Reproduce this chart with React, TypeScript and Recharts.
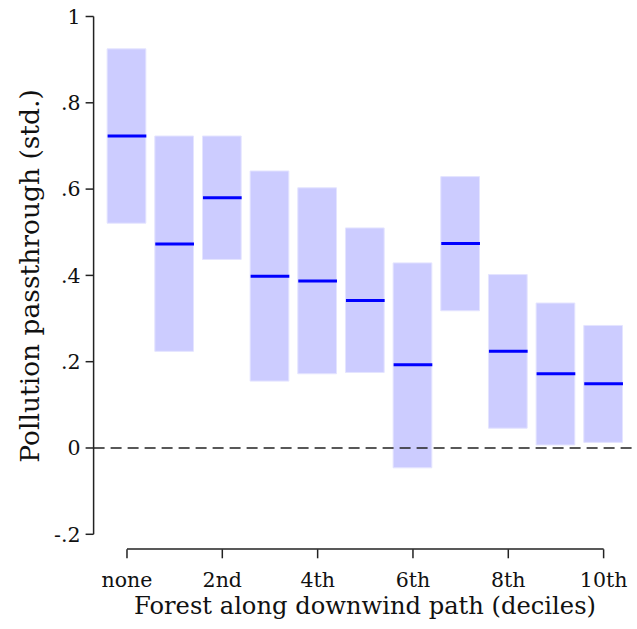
import {
  ComposedChart,
  Bar,
  Scatter,
  XAxis,
  YAxis,
  ReferenceLine,
} from 'recharts';

const deciles = ['none', '1st', '2nd', '3rd', '4th', '5th', '6th', '7th', '8th', '9th', '10th'];
const estimate = [0.723, 0.473, 0.58, 0.398, 0.387, 0.342, 0.193, 0.474, 0.224, 0.172, 0.149];
const lower = [0.521, 0.224, 0.437, 0.155, 0.172, 0.175, -0.046, 0.318, 0.046, 0.007, 0.013];
const upper = [0.925, 0.723, 0.723, 0.642, 0.603, 0.51, 0.429, 0.629, 0.402, 0.336, 0.284];
const yTicks = [-0.2, 0, 0.2, 0.4, 0.6, 0.8, 1];

const FONT = 'DejaVu Serif';
const BOX_W = 38.7;

const chartData = deciles.map((d, i) => ({
  name: d,
  band: [lower[i], upper[i]],
  est: estimate[i],
}));

const fmtY = (v: number) => {
  if (v === 0) return '0';
  if (v === 1) return '1';
  return v.toFixed(1).replace('0.', '.');
};

const XTick = ({ x, y, payload }: any) => (
  <g>
    <line x1={x} x2={x} y1={y + 15} y2={y + 24} stroke="#222" strokeWidth={1.5} />
    <text x={x} y={y + 53} textAnchor="middle" fontFamily={FONT} fontSize={20.5} fill="#111">
      {payload.value}
    </text>
  </g>
);

const EstLine = (p: any) => (
  <line
    x1={p.cx - BOX_W / 2}
    x2={p.cx + BOX_W / 2}
    y1={p.cy}
    y2={p.cy}
    stroke="#0000ff"
    strokeWidth={3}
  />
);

export default function App() {
  return (
    <div style={{ position: 'absolute', left: 0, top: 0, width: 637, height: 629, background: '#fff' }}>
      <ComposedChart
        width={637}
        height={629}
        data={chartData}
        margin={{ top: 16.5, right: 0, left: 0, bottom: 94.7 }}
      >
        <XAxis
          dataKey="name"
          type="category"
          padding={{ left: 9.55, right: 9.55 }}
          interval={1}
          axisLine={false}
          tickLine={false}
          tickSize={0}
          tickMargin={0}
          tick={<XTick />}
          height={0.01}
        />
        <YAxis
          type="number"
          domain={[-0.2, 1]}
          ticks={yTicks}
          tickFormatter={fmtY}
          width={93.6}
          tickSize={8}
          tickMargin={5}
          stroke="#222"
          axisLine={{ stroke: '#222', strokeWidth: 1.5 }}
          tickLine={{ stroke: '#222', strokeWidth: 1.5 }}
          tick={{ fontFamily: FONT, fontSize: 20.5, fill: '#111' }}
          allowDataOverflow
        />
        <Bar dataKey="band" barSize={BOX_W} fill="#ccccff" stroke="#e4e4ff" strokeWidth={1} isAnimationActive={false} />
        <Scatter dataKey="est" shape={<EstLine />} isAnimationActive={false} />
        <ReferenceLine y={0} stroke="#222" strokeWidth={1.5} strokeDasharray="11 6" />
        <ReferenceLine
          segment={[{ x: 'none', y: -0.234 }, { x: '10th', y: -0.234 }]}
          stroke="#222"
          strokeWidth={1.5}
          ifOverflow="visible"
        />
      </ComposedChart>
      <div
        style={{
          position: 'absolute',
          left: 29,
          top: 276,
          transform: 'translate(-50%, -50%) rotate(-90deg)',
          whiteSpace: 'nowrap',
          fontFamily: FONT,
          fontSize: 26.5,
          color: '#111',
        }}
      >
        Pollution passthrough (std.)
      </div>
      <div
        style={{
          position: 'absolute',
          left: 365,
          top: 606,
          transform: 'translate(-50%, -50%)',
          whiteSpace: 'nowrap',
          fontFamily: FONT,
          fontSize: 24.2,
          color: '#111',
        }}
      >
        Forest along downwind path (deciles)
      </div>
    </div>
  );
}
